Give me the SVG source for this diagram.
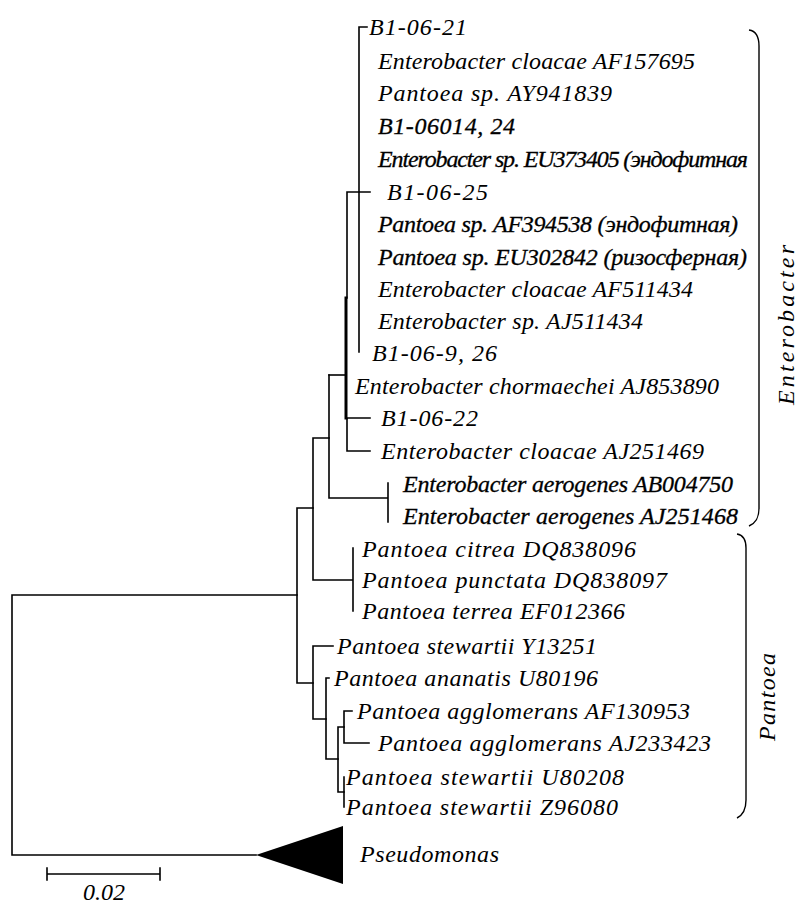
<svg xmlns="http://www.w3.org/2000/svg" width="798" height="906" viewBox="0 0 798 906">
<style>
.l{font-family:"Liberation Serif","Times New Roman",serif;font-style:italic;font-size:24px;fill:#000}
.dk{stroke:#000;stroke-width:0.3}
.e{stroke:#000;stroke-width:1.6;fill:none;stroke-linecap:square}
.b{stroke:#000;stroke-width:1.4;fill:none}
</style>
<rect width="798" height="906" fill="#fff"/>
<g id="connectors" class="e">
<path d="M12 595V855M12 595H297M12 855H256"/>
<path d="M297 508V683M297 508H313M297 683H313"/>
<path d="M313 438V580M313 438H329M313 580H353M353 548V611"/>
<path d="M329 375V498M329 498H388M388 483V522"/>
<path d="M329 375H346"/>
<path d="M347 192V298M347 192H370M347 418V451M347 418H370M347 451H370"/>
<path d="M346 298V418" style="stroke-width:3"/>
<path d="M359 27V352M359 27H367"/>
<path d="M313 646V719M313 646H333M313 719H326"/>
<path d="M326 678V759M326 678H329M326 759H338"/>
<path d="M338 727V792M338 727H344M338 792H344"/>
<path d="M344 711V743M344 711H352M344 743H369"/>
<path d="M344 777V807"/>
<path d="M47 874H160M47 868V880M160 868V880"/>
</g>
<g id="pseudomonas">
<polygon points="256,855 343,826 343,884" fill="#000"/>
<text class="l" x="360" y="862" textLength="139" lengthAdjust="spacing">Pseudomonas</text>
</g>
<g id="scale"><text class="l" x="104" y="900" text-anchor="middle">0.02</text></g>
<g id="leaves">
<text id="n0" class="l" x="369" y="35" textLength="98" lengthAdjust="spacing">B1-06-21</text>
<text id="n1" class="l" x="378" y="69" textLength="317" lengthAdjust="spacing">Enterobacter cloacae AF157695</text>
<text id="n2" class="l" x="378" y="101" textLength="234" lengthAdjust="spacing">Pantoea sp. AY941839</text>
<text id="n3" class="l dk" x="378" y="134" textLength="137" lengthAdjust="spacing">B1-06014, 24</text>
<text id="n4" class="l dk" x="378" y="167" textLength="370" lengthAdjust="spacing">Enterobacter sp. EU373405 (эндофитная</text>
<text id="n5" class="l" x="387" y="200" textLength="101" lengthAdjust="spacing">B1-06-25</text>
<text id="n6" class="l dk" x="378" y="232" textLength="360" lengthAdjust="spacing">Pantoea sp. AF394538 (эндофитная)</text>
<text id="n7" class="l dk" x="378" y="265" textLength="369" lengthAdjust="spacing">Pantoea sp. EU302842 (ризосферная)</text>
<text id="n8" class="l" x="378" y="297" textLength="315" lengthAdjust="spacing">Enterobacter cloacae AF511434</text>
<text id="n9" class="l" x="378" y="329" textLength="265" lengthAdjust="spacing">Enterobacter sp. AJ511434</text>
<text id="n10" class="l" x="372" y="361" textLength="125" lengthAdjust="spacing">B1-06-9, 26</text>
<text id="n11" class="l" x="355" y="394" textLength="364" lengthAdjust="spacing">Enterobacter chormaechei AJ853890</text>
<text id="n12" class="l" x="381" y="426" textLength="97" lengthAdjust="spacing">B1-06-22</text>
<text id="n13" class="l" x="381" y="459" textLength="323" lengthAdjust="spacing">Enterobacter cloacae AJ251469</text>
<text id="n14" class="l dk" x="403" y="492" textLength="330" lengthAdjust="spacing">Enterobacter aerogenes AB004750</text>
<text id="n15" class="l dk" x="403" y="524" textLength="335" lengthAdjust="spacing">Enterobacter aerogenes AJ251468</text>
<text id="n16" class="l" x="362" y="557" textLength="274" lengthAdjust="spacing">Pantoea citrea DQ838096</text>
<text id="n17" class="l" x="362" y="588" textLength="305" lengthAdjust="spacing">Pantoea punctata DQ838097</text>
<text id="n18" class="l" x="362" y="619" textLength="263" lengthAdjust="spacing">Pantoea terrea EF012366</text>
<text id="n19" class="l" x="337" y="654" textLength="260" lengthAdjust="spacing">Pantoea stewartii Y13251</text>
<text id="n20" class="l" x="334" y="686" textLength="264" lengthAdjust="spacing">Pantoea ananatis U80196</text>
<text id="n21" class="l" x="357" y="719" textLength="333" lengthAdjust="spacing">Pantoea agglomerans AF130953</text>
<text id="n22" class="l" x="378" y="751" textLength="333" lengthAdjust="spacing">Pantoea agglomerans AJ233423</text>
<text id="n23" class="l" x="346" y="785" textLength="278" lengthAdjust="spacing">Pantoea stewartii U80208</text>
<text id="n24" class="l" x="346" y="815" textLength="272" lengthAdjust="spacing">Pantoea stewartii Z96080</text>
</g>
<g id="enterobacter-group">
<path class="b" d="M749 30C756 31 759 36 759 46V508C759 518 756 523 749 526"/>
<text class="l" transform="translate(794,325) rotate(-90)" text-anchor="middle" textLength="160" lengthAdjust="spacing">Enterobacter</text>
</g>
<g id="pantoea-group">
<path class="b" d="M737 534C743 535 746 540 746 548V800C746 810 743 815 737 818"/>
<text class="l" transform="translate(775,697) rotate(-90)" text-anchor="middle" textLength="88" lengthAdjust="spacing">Pantoea</text>
</g>
</svg>
